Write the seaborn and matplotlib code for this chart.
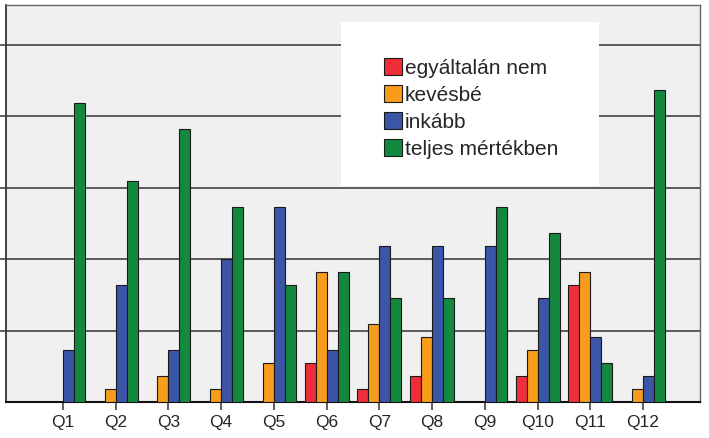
import matplotlib
matplotlib.use("Agg")
import matplotlib.pyplot as plt
import matplotlib.patches as mpatches
import seaborn as sns
import pandas as pd

questions = ["Q1", "Q2", "Q3", "Q4", "Q5", "Q6", "Q7", "Q8", "Q9", "Q10", "Q11", "Q12"]
answers = ["egyáltalán nem", "kevésbé", "inkább", "teljes mértékben"]
egyaltalan_nem = [0, 0, 0, 0, 0, 3, 1, 2, 0, 2, 9, 0]
kevesbe = [0, 1, 2, 1, 3, 10, 6, 5, 0, 4, 10, 1]
inkabb = [4, 9, 4, 11, 15, 4, 12, 12, 12, 8, 5, 2]
teljes = [23, 17, 21, 15, 9, 10, 8, 8, 15, 13, 3, 24]
colors = ["#ee2f3a", "#f89c1c", "#3b55a7", "#13893f"]

series = [egyaltalan_nem, kevesbe, inkabb, teljes]
rows = []
for a, vals in zip(answers, series):
    for q, v in zip(questions, vals):
        rows.append({"question": q, "answer": a, "count": v})
df = pd.DataFrame(rows)

sns.set_style("white")
plt.rcParams["font.family"] = ["Liberation Sans", "DejaVu Sans"]

fig = plt.figure(figsize=(7.09, 4.38), dpi=100)
ax = fig.add_axes([6 / 709, 1 - 402.3 / 438, 694 / 709, 397 / 438])
ax.set_facecolor("#f0f0f0")

sns.barplot(data=df, x="question", y="count", hue="answer", order=questions,
            hue_order=answers, palette=colors, width=0.835, edgecolor="#1a1a1a",
            linewidth=0.8, saturation=1, legend=False, ax=ax, zorder=3)

ax.set_xlim(-1.08, 12.08)
ax.set_ylim(0, 30.54)
ax.set_yticks([5.5, 11, 16.5, 22, 27.5])
ax.yaxis.grid(True, color="#333333", linewidth=1.1, zorder=1)
ax.set_axisbelow(True)
ax.set_yticklabels([])
ax.tick_params(axis="y", length=6, width=1.1, color="#333333", left=True)
ax.tick_params(axis="x", length=6, width=1.1, color="#333333", bottom=True,
               labelsize=12.5, pad=3)
ax.set_xlabel("")
ax.set_ylabel("")

for side in ["top", "right"]:
    ax.spines[side].set_color("#666666")
    ax.spines[side].set_linewidth(1.0)
ax.spines["left"].set_color("#333333")
ax.spines["left"].set_linewidth(1.3)
ax.spines["bottom"].set_color("#111111")
ax.spines["bottom"].set_linewidth(1.5)

# legend background box
bx0 = (341 - 6) / 694
bx1 = (599 - 6) / 694
by0 = (402.3 - 186) / 397
by1 = (402.3 - 22) / 397
ax.add_patch(mpatches.Rectangle((bx0, by0), bx1 - bx0, by1 - by0, transform=ax.transAxes,
                                facecolor="white", edgecolor="none", zorder=5))

handles = [mpatches.Patch(facecolor=c, edgecolor="#1a1a1a", linewidth=0.8) for c in colors]
leg = ax.legend(handles, answers, loc="upper left", bbox_to_anchor=((384 - 6) / 694, (402.3 - 58) / 397),
                frameon=False, fontsize=15, handlelength=0.85, handleheight=0.85,
                handletextpad=0.15, labelspacing=0.36, borderpad=0, borderaxespad=0)
leg.set_zorder(6)

fig.savefig("out.png", dpi=100)
